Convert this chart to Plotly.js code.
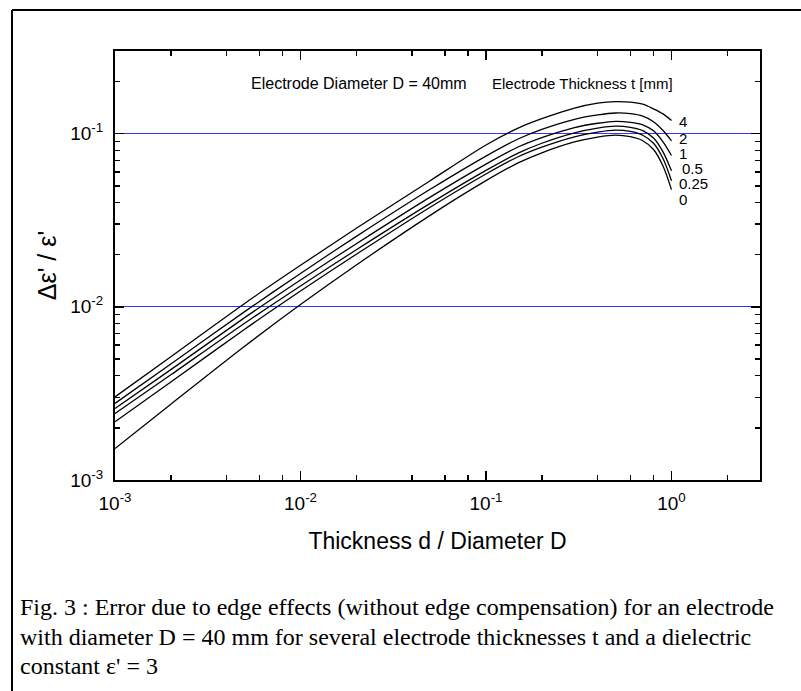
<!DOCTYPE html>
<html><head><meta charset="utf-8">
<script src="https://cdn.plot.ly/plotly-3.0.1.min.js"></script>
<style>html,body{margin:0;padding:0;background:#fff}</style>
</head><body><div id="chart" style="width:801px;height:691px"></div>
<script>
// d/D ratio (x values)
const ratio = [0.001,0.002,0.005,0.01,0.02,0.05,0.1,0.15,0.2,0.3,0.4,0.5,0.6,0.7,0.8,0.9,1.0];
// relative error Δε'/ε' for electrode thickness t [mm]
const err_t4   = [0.00302,0.00515,0.01046,0.01736,0.0284,0.0535,0.086,0.108,0.122,0.1405,0.150,0.153,0.152,0.148,0.139,0.130,0.119];
const err_t2   = [0.00277,0.00467,0.00938,0.01559,0.0255,0.0477,0.0742,0.0934,0.1058,0.1210,0.1283,0.1316,0.1304,0.1262,0.1171,0.1042,0.0909];
const err_t1   = [0.00259,0.00434,0.00866,0.01429,0.02314,0.0430,0.0667,0.0840,0.0949,0.1084,0.1148,0.1178,0.1163,0.1125,0.1038,0.0897,0.0748];
const err_t05  = [0.00242,0.00405,0.00804,0.0132,0.02136,0.03956,0.0614,0.0775,0.0880,0.1011,0.1076,0.1104,0.1087,0.1040,0.0943,0.0785,0.0610];
const err_t025 = [0.00217,0.00368,0.00742,0.01233,0.02011,0.0376,0.0585,0.0738,0.0836,0.0959,0.1021,0.1048,0.1029,0.0979,0.0880,0.0718,0.0535];
const err_t0   = [0.00152,0.00274,0.00592,0.0103,0.01744,0.03375,0.0535,0.068,0.0775,0.0895,0.0955,0.098,0.096,0.091,0.081,0.065,0.0475];
const thicknessLabels = ['4','2','1','0.5','0.25','0'];
const seriesList = [err_t4, err_t2, err_t1, err_t05, err_t025, err_t0];

const xMajor = [0.001,0.01,0.1,1];
const xMajorText = ['10<sup>-3</sup>','10<sup>-2</sup>','10<sup>-1</sup>','10<sup>0</sup>'];
const xMinor = [0.002,0.004,0.006,0.008,0.02,0.04,0.06,0.08,0.2,0.4,0.6,0.8,2];
const yMajor = [0.001,0.01,0.1];
const yMajorText = ['10<sup>-3</sup>','10<sup>-2</sup>','10<sup>-1</sup>'];
const yMinor = [0.002,0.003,0.004,0.005,0.006,0.007,0.008,0.009,0.02,0.03,0.04,0.05,0.06,0.07,0.08,0.09,0.2];

const W=801,H=691,L=115,R=760,T=51,B=480;
const px = x => (x-L)/(R-L);
const py = y => (B-y)/(B-T);
const SANS = 'Arial, "Liberation Sans", sans-serif';
const SERIF = '"Times New Roman", "Liberation Serif", serif';

const traces = seriesList.map((s,i)=>({
  x: ratio, y: s, type:'scatter', mode:'lines', name:'t = '+thicknessLabels[i]+' mm',
  line:{color:'#000', width:1.3, shape:'spline', smoothing:0.8}, showlegend:false
}));

const labelY = [121,138,153,168,183,199];
const labelX = [677,677,677,680,677,677];
const annotations = thicknessLabels.map((t,i)=>({
  text:t, xref:'paper', yref:'paper', x:px(labelX[i]), y:py(labelY[i]),
  xanchor:'left', yanchor:'middle', showarrow:false, font:{family:SANS,size:15,color:'#000'}
}));
annotations.push({text:'Electrode Diameter D = 40mm', xref:'paper', yref:'paper', x:px(249), y:py(84),
  xanchor:'left', yanchor:'middle', showarrow:false, font:{family:SANS,size:16,color:'#000'}});
annotations.push({text:'Electrode Thickness t [mm]', xref:'paper', yref:'paper', x:px(490), y:py(84),
  xanchor:'left', yanchor:'middle', showarrow:false, font:{family:SANS,size:15,color:'#000'}});
const caption = ['Fig. 3 : Error due to edge effects (without edge compensation) for an electrode',
  'with diameter D = 40 mm for several electrode thicknesses t and a dielectric',
  "constant ε' = 3"];
const capY = [607,637,666];
caption.forEach((c,i)=>annotations.push({text:c, xref:'paper', yref:'paper', x:px(18), y:py(capY[i]),
  xanchor:'left', yanchor:'middle', showarrow:false, font:{family:SERIF,size:24,color:'#000'}}));

const axisCommon = {
  type:'log', showline:true, linecolor:'#000', linewidth:2, mirror:'ticks',
  ticks:'inside', ticklen:9, tickwidth:1.5, tickcolor:'#000',
  tickfont:{family:SANS,size:19,color:'#000'}, zeroline:false
};
const layout = {
  width:W, height:H, margin:{l:L,r:W-R,t:T,b:H-B,pad:0},
  paper_bgcolor:'#fff', plot_bgcolor:'#fff', showlegend:false,
  xaxis: Object.assign({}, axisCommon, {
    range:[-3, Math.log10(3)], tickmode:'array', tickvals:xMajor, ticktext:xMajorText,
    showgrid:false, ticklabelstandoff:5,
    minor:{tickmode:'array', tickvals:xMinor, ticks:'inside', ticklen:5, tickwidth:1.5, tickcolor:'#000', showgrid:false},
    title:{text:'Thickness d / Diameter D', font:{family:SANS,size:23,color:'#000'}, standoff:20}
  }),
  yaxis: Object.assign({}, axisCommon, {
    range:[-3, Math.log10(0.3)], tickmode:'array', tickvals:yMajor, ticktext:yMajorText,
    showgrid:true, gridcolor:'#3333ff', gridwidth:1, ticklabelstandoff:6,
    minor:{tickmode:'array', tickvals:yMinor, ticks:'inside', ticklen:5, tickwidth:1.5, tickcolor:'#000', showgrid:false},
    title:{text:"Δε' / ε'", font:{family:SANS,size:25,color:'#000'}, standoff:6}
  }),
  annotations: annotations,
  shapes:[
    {type:'line', xref:'paper', yref:'paper', x0:px(12), x1:px(805), y0:py(10), y1:py(10), line:{color:'#000',width:2}},
    {type:'line', xref:'paper', yref:'paper', x0:px(12), x1:px(12), y0:py(10), y1:py(700), line:{color:'#000',width:2}}
  ]
};
Plotly.newPlot('chart', traces, layout, {displayModeBar:false, staticPlot:true});
</script></body></html>
